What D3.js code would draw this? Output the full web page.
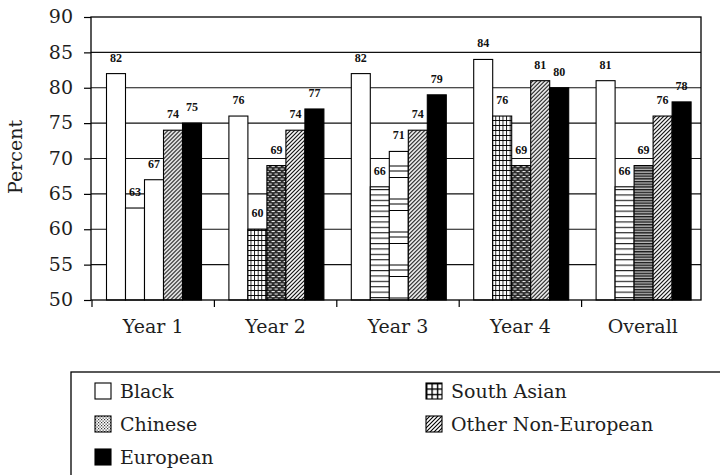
<!DOCTYPE html>
<html>
<head>
<meta charset="utf-8">
<script src="https://cdn.jsdelivr.net/npm/d3@7"></script>
<style>
  html, body { margin: 0; padding: 0; background: #fff; }
  svg { display: block; }
</style>
</head>
<body>
<svg id="chart" width="720" height="475"></svg>
<script>
// Categories, series and values
const categories = ["Year 1", "Year 2", "Year 3", "Year 4", "Overall"];
const seriesNames = ["Black", "South Asian", "Chinese", "Other Non-European", "European"];
const black = [82, 76, 82, 84, 81];
const southAsian = [63, 60, 66, 76, 66];
const chinese = [67, 69, 71, 69, 69];
const otherNonEuropean = [74, 74, 74, 81, 76];
const european = [75, 77, 79, 80, 78];
const yTicks = [50, 55, 60, 65, 70, 75, 80, 85, 90];
const legendOrder = ["Black", "South Asian", "Chinese", "Other Non-European", "European"];

const seriesValues = {
  "Black": black,
  "South Asian": southAsian,
  "Chinese": chinese,
  "Other Non-European": otherNonEuropean,
  "European": european
};

const svg = d3.select("#chart");
const serif = "'DejaVu Serif', serif";
const textColor = "#1e1e1e";

// ---------- fill patterns ----------
const defs = svg.append("defs");
function pattern(id, w, h) {
  return defs.append("pattern").attr("id", id)
    .attr("patternUnits", "userSpaceOnUse")
    .attr("width", w).attr("height", h);
}
// square grid
let p = pattern("grid", 3.6, 5);
p.append("rect").attr("width", 3.6).attr("height", 5).attr("fill", "#fff");
p.append("path").attr("d", "M0.5,0V5M0,0.5H3.6").attr("stroke", "#000").attr("stroke-width", 0.9);
// coarser grid for the legend key
p = pattern("gridKey", 5.4, 5.4);
p.append("rect").attr("width", 5.4).attr("height", 5.4).attr("fill", "#fff");
p.append("path").attr("d", "M0.7,0V5.4M0,0.7H5.4").attr("stroke", "#000").attr("stroke-width", 1.4);
// brick-like dark texture
p = pattern("brick", 6, 5);
p.append("rect").attr("width", 6).attr("height", 5).attr("fill", "#2a2a2a");
p.append("rect").attr("x", 0.6).attr("y", 1).attr("width", 3.2).attr("height", 1.1).attr("fill", "#e8e8e8");
p.append("rect").attr("x", 3.6).attr("y", 3.5).attr("width", 3.2).attr("height", 1.1).attr("fill", "#e8e8e8");
p.append("rect").attr("x", -2.4).attr("y", 3.5).attr("width", 3.2).attr("height", 1.1).attr("fill", "#e8e8e8");
// stipple for the legend key
p = pattern("stipple", 3, 3);
p.append("rect").attr("width", 3).attr("height", 3).attr("fill", "#fff");
p.append("rect").attr("x", 0).attr("y", 0).attr("width", 1.2).attr("height", 1.2).attr("fill", "#333");
p.append("rect").attr("x", 1.5).attr("y", 1.5).attr("width", 1.2).attr("height", 1.2).attr("fill", "#333");
// horizontal lines
p = pattern("hlines", 4, 5.4);
p.append("rect").attr("width", 4).attr("height", 5.4).attr("fill", "#fff");
p.append("path").attr("d", "M0,0.6H4").attr("stroke", "#000").attr("stroke-width", 1);
// dense horizontal lines
p = pattern("hdense", 4, 2.7);
p.append("rect").attr("width", 4).attr("height", 2.7).attr("fill", "#bbb");
p.append("path").attr("d", "M0,0.7H4").attr("stroke", "#000").attr("stroke-width", 1.2);
// sparse grouped lines
p = pattern("sparse", 4, 33);
p.append("rect").attr("width", 4).attr("height", 33).attr("fill", "#fff");
p.append("path").attr("d", "M0,1H4M0,6H4M0,12.5H4").attr("stroke", "#000").attr("stroke-width", 1);
// diagonal hatch
p = pattern("diag", 4, 4);
p.append("rect").attr("width", 4).attr("height", 4).attr("fill", "#fff");
p.append("path").attr("d", "M-1,1L1,-1M0,4L4,0M3,5L5,3").attr("stroke", "#000").attr("stroke-width", 1.1);

// fill of each bar: series, then category index
const barFill = {
  "Black": () => "#fff",
  "South Asian": i => ["#fff", "url(#grid)", "url(#hlines)", "url(#grid)", "url(#hlines)"][i],
  "Chinese": i => ["#fff", "url(#brick)", "url(#sparse)", "url(#brick)", "url(#hdense)"][i],
  "Other Non-European": () => "url(#diag)",
  "European": () => "#000"
};
const keyFill = {
  "Black": "#fff",
  "South Asian": "url(#gridKey)",
  "Chinese": "url(#stipple)",
  "Other Non-European": "url(#diag)",
  "European": "#000"
};

// ---------- scales ----------
const plot = { left: 91, top: 17, right: 701, bottom: 300 };
const y = d3.scaleLinear().domain([50, 90]).range([plot.bottom, plot.top]);
const x0 = d3.scaleBand().domain(categories).range([plot.left + 1, 704]).padding(0);
const groupInset = 14.5;
const x1 = d3.scaleBand().domain(seriesNames).range([0, 95]).padding(0);

// ---------- gridlines ----------
svg.append("g").selectAll("line")
  .data(yTicks.filter(v => v > 50 && v < 90))
  .join("line")
  .attr("x1", plot.left).attr("x2", plot.right)
  .attr("y1", d => y(d)).attr("y2", d => y(d))
  .attr("stroke", "#111").attr("stroke-width", 1.1);

// ---------- bars ----------
const groups = svg.append("g").selectAll("g")
  .data(categories)
  .join("g")
  .attr("transform", c => `translate(${x0(c) + groupInset},0)`);

groups.selectAll("rect")
  .data((c, i) => seriesNames.map(s => ({ s, i, v: seriesValues[s][i] })))
  .join("rect")
  .attr("x", d => x1(d.s))
  .attr("width", x1.bandwidth())
  .attr("y", d => y(d.v))
  .attr("height", d => y(50) - y(d.v))
  .attr("fill", d => barFill[d.s](d.i))
  .attr("stroke", "#000").attr("stroke-width", 1.1);

groups.selectAll("text")
  .data((c, i) => seriesNames.map(s => ({ s, i, v: seriesValues[s][i] })))
  .join("text")
  .attr("x", d => x1(d.s) + x1.bandwidth() / 2)
  .attr("y", d => y(d.v) - 12)
  .attr("text-anchor", "middle")
  .attr("font-family", "'Liberation Serif', serif")
  .attr("font-weight", "bold")
  .attr("font-size", 12)
  .attr("fill", "#111")
  .text(d => d.v);

// ---------- frame ----------
svg.append("rect")
  .attr("x", plot.left).attr("y", plot.top)
  .attr("width", plot.right - plot.left).attr("height", plot.bottom - plot.top)
  .attr("fill", "none").attr("stroke", "#000").attr("stroke-width", 1.3);

// ---------- axes ----------
const yAxis = svg.append("g")
  .attr("transform", `translate(${plot.left},0)`)
  .call(d3.axisLeft(y).tickValues(yTicks).tickSize(7).tickSizeOuter(0).tickPadding(11));
yAxis.select(".domain").remove();
yAxis.selectAll("line").attr("stroke", "#000").attr("stroke-width", 1.2);
yAxis.selectAll("text")
  .attr("font-family", serif).attr("font-size", 19)
  .attr("fill", textColor).attr("dy", "0.3em");

const xAxis = svg.append("g")
  .attr("transform", `translate(0,${plot.bottom})`)
  .call(d3.axisBottom(x0).tickSize(0).tickPadding(20));
xAxis.select(".domain").remove();
xAxis.selectAll("text")
  .attr("font-family", serif).attr("font-size", 19)
  .attr("fill", textColor);
// category separators below the axis
xAxis.append("g").selectAll("line")
  .data(categories)
  .join("line")
  .attr("x1", c => x0(c)).attr("x2", c => x0(c))
  .attr("y1", 0).attr("y2", 7)
  .attr("stroke", "#000").attr("stroke-width", 1.2);

// y axis title
svg.append("text")
  .attr("transform", "translate(22,157) rotate(-90)")
  .attr("text-anchor", "middle")
  .attr("font-family", serif).attr("font-size", 19)
  .attr("fill", textColor)
  .text("Percent");

// ---------- legend ----------
const legend = svg.append("g");
legend.append("rect")
  .attr("x", 71).attr("y", 372)
  .attr("width", 700).attr("height", 130)
  .attr("fill", "none").attr("stroke", "#000").attr("stroke-width", 1.3);

const items = legend.selectAll("g.item")
  .data(legendOrder)
  .join("g")
  .attr("class", "item")
  .attr("transform", (d, i) => `translate(${i % 2 === 0 ? 95 : 426},${383 + Math.floor(i / 2) * 33})`);
items.append("rect")
  .attr("width", 16).attr("height", 16)
  .attr("fill", d => keyFill[d])
  .attr("stroke", "#000").attr("stroke-width", 1.1);
items.append("text")
  .attr("x", 25).attr("y", 14.5)
  .attr("font-family", serif).attr("font-size", 19)
  .attr("fill", textColor)
  .text(d => d);
</script>
</body>
</html>
